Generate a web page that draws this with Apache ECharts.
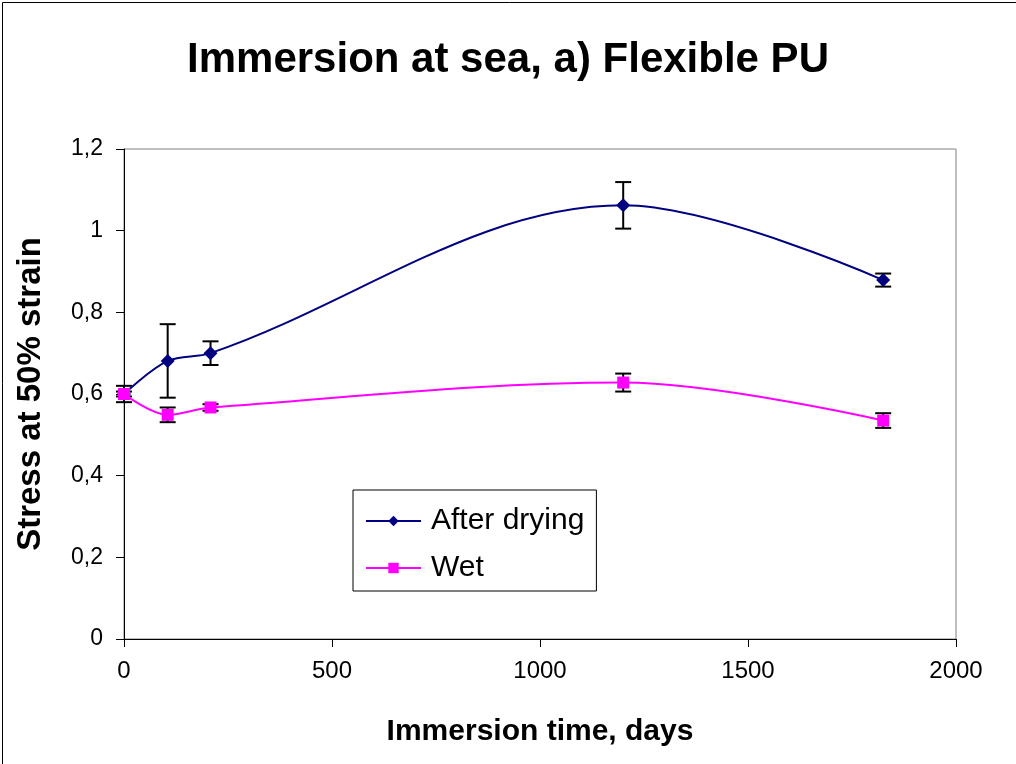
<!DOCTYPE html>
<html>
<head>
<meta charset="utf-8">
<script src="https://cdn.jsdelivr.net/npm/echarts@6/dist/echarts.min.js"></script>
<style>
  html, body { margin: 0; padding: 0; background: #fff; }
  #chart { width: 1016px; height: 764px; }
</style>
</head>
<body>
<div id="chart"></div>
<script>
// immersion time in days
const days = [0, 105, 208, 1200, 1825]
// stress at 50% strain
const afterDrying = [0.60, 0.681, 0.70, 1.062, 0.879]
const afterDryingErr = [0.02, 0.09, 0.029, 0.057, 0.016]
const wet = [0.60, 0.549, 0.567, 0.628, 0.535]
const wetErr = [0.006, 0.018, 0.008, 0.022, 0.018]

const toPairs = (ys) => days.map((d, i) => [d, ys[i]])
const toBars = (ys, errs) => days.map((d, i) => [d, ys[i] - errs[i], ys[i] + errs[i]])

// 误差线：竖线加上下两个短横
const renderErrorBar = (params, api) => {
  const x = api.value(0)
  const lo = api.coord([x, api.value(1)])
  const hi = api.coord([x, api.value(2)])
  const half = 8
  const style = { stroke: '#000', lineWidth: 2 }
  return {
    type: 'group',
    children: [
      { type: 'line', shape: { x1: lo[0], y1: lo[1], x2: hi[0], y2: hi[1] }, style },
      { type: 'line', shape: { x1: lo[0] - half, y1: lo[1], x2: lo[0] + half, y2: lo[1] }, style },
      { type: 'line', shape: { x1: hi[0] - half, y1: hi[1], x2: hi[0] + half, y2: hi[1] }, style }
    ]
  }
}

const chart = echarts.init(document.getElementById('chart'))

chart.setOption({
  backgroundColor: '#fff',
  animation: false,
  title: {
    text: 'Immersion at sea, a) Flexible PU',
    left: 'center',
    top: 34,
    textStyle: { fontFamily: 'Liberation Sans', fontWeight: 'bold', fontSize: 42, color: '#000' }
  },
  graphic: [
    {
      type: 'rect',
      left: 0, top: 0,
      shape: { width: 1015, height: 763 },
      style: { fill: 'none', stroke: '#000', lineWidth: 1 },
      silent: true
    }
  ],
  legend: {
    data: ['After drying', 'Wet'],
    orient: 'vertical',
    left: 353,
    top: 490,
    itemWidth: 55,
    itemHeight: 13,
    itemGap: 17,
    padding: [16, 12, 8, 12],
    borderColor: '#000',
    borderWidth: 1,
    backgroundColor: '#fff',
    textStyle: { fontFamily: 'Liberation Sans', fontSize: 30, color: '#000', padding: [0, 0, 0, 5] }
  },
  grid: {
    left: 124,
    right: 60,
    top: 149,
    bottom: 125,
    show: true,
    borderColor: '#808080',
    borderWidth: 1
  },
  xAxis: {
    type: 'value',
    min: 0,
    max: 2000,
    interval: 500,
    name: 'Immersion time, days',
    nameLocation: 'middle',
    nameGap: 78,
    nameTextStyle: { fontFamily: 'Liberation Sans', fontWeight: 'bold', fontSize: 30, color: '#000' },
    axisLine: { lineStyle: { color: '#000', width: 1 } },
    axisTick: { inside: false, length: 8, lineStyle: { color: '#000' } },
    axisLabel: {
      fontFamily: 'Liberation Sans', fontSize: 24, color: '#000', margin: 20,
      formatter: (v) => String(v)
    },
    splitLine: { show: false }
  },
  yAxis: {
    type: 'value',
    min: 0,
    max: 1.2,
    interval: 0.2,
    name: 'Stress at 50% strain',
    nameLocation: 'middle',
    nameGap: 77,
    nameTextStyle: { fontFamily: 'Liberation Sans', fontWeight: 'bold', fontSize: 33, color: '#000' },
    axisLine: { show: true, lineStyle: { color: '#000', width: 1 } },
    axisTick: { show: true, inside: false, length: 8, lineStyle: { color: '#000' } },
    axisLabel: {
      fontFamily: 'Liberation Sans', fontSize: 23, color: '#000', margin: 21,
      formatter: (v) => (Math.round(v * 10) / 10).toString().replace('.', ',')
    },
    splitLine: { show: false }
  },
  series: [
    {
      name: 'errDrying',
      type: 'custom',
      renderItem: renderErrorBar,
      data: toBars(afterDrying, afterDryingErr),
      encode: { x: 0, y: [1, 2] },
      z: 1
    },
    {
      name: 'errWet',
      type: 'custom',
      renderItem: renderErrorBar,
      data: toBars(wet, wetErr),
      encode: { x: 0, y: [1, 2] },
      z: 1
    },
    {
      name: 'After drying',
      type: 'line',
      data: toPairs(afterDrying),
      smooth: 0.35,
      symbol: 'diamond',
      symbolSize: 14,
      lineStyle: { color: '#000080', width: 2 },
      itemStyle: { color: '#000080' },
      z: 3
    },
    {
      name: 'Wet',
      type: 'line',
      data: toPairs(wet),
      smooth: 0.35,
      symbol: 'rect',
      symbolSize: 12,
      lineStyle: { color: '#FF00FF', width: 2 },
      itemStyle: { color: '#FF00FF' },
      z: 3
    }
  ]
})
</script>
</body>
</html>
